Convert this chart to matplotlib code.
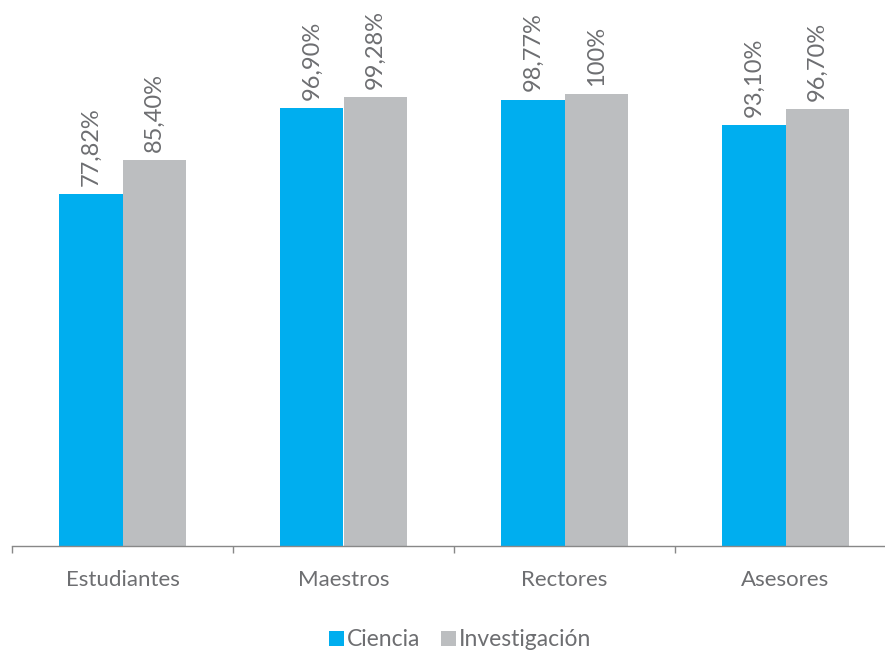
import numpy as np
import matplotlib
matplotlib.use("Agg")
import matplotlib.pyplot as plt

# grupos encuestados y porcentajes por tema
categorias = ["Estudiantes", "Maestros", "Rectores", "Asesores"]
ciencia = [77.82, 96.90, 98.77, 93.10]
investigacion = [85.40, 99.28, 100.0, 96.70]
etiq_ciencia = ["77,82%", "96,90%", "98,77%", "93,10%"]
etiq_invest = ["85,40%", "99,28%", "100%", "96,70%"]

azul = "#00AEEF"
gris = "#BCBEC0"
texto = "#6D6E71"

plt.rcParams['font.family'] = ['Lato', 'DejaVu Sans']

W, H = 885, 656
fig = plt.figure(figsize=(W / 100, H / 100), dpi=100)
# ejes en pixeles: base en y=546, 100% en y=94
base = 546
escala = 452 / 100.0
top = base - 120 * escala
ax = fig.add_axes([12 / W, (H - base) / H, 884 / W, (base - top) / H])

x = np.arange(len(categorias))
ancho = 0.287
b1 = ax.bar(x - ancho / 2, ciencia, ancho, color=azul, label="Ciencia")
b2 = ax.bar(x + ancho / 2, investigacion, ancho, color=gris, label="Investigación")

for barras, etiquetas in ((b1, etiq_ciencia), (b2, etiq_invest)):
    for b, t in zip(barras, etiquetas):
        ax.annotate(t, (b.get_x() + b.get_width() / 2, b.get_height()),
                    xytext=(0, 6), textcoords="offset points",
                    rotation=90, ha="center", va="bottom",
                    fontsize=17, color=texto)

ax.set_xlim(-0.5, len(categorias) - 0.5)
ax.set_ylim(0, 120)
ax.set_xticks(x)
ax.set_xticklabels(categorias, fontsize=16, color=texto)
ax.set_xticks(np.arange(len(categorias) + 1) - 0.5, minor=True)
ax.tick_params(axis="x", which="major", length=0, pad=17)
ax.tick_params(axis="x", which="minor", length=5, width=1, color="#888888")
ax.set_yticks([])
for lado in ("top", "right", "left"):
    ax.spines[lado].set_visible(False)
ax.spines["bottom"].set_color("#888888")
ax.spines["bottom"].set_linewidth(1)

fig.legend(handles=[b1, b2], loc="center", bbox_to_anchor=(0.52, (H - 640) / H),
           ncol=2, frameon=False, fontsize=16.5, labelcolor=texto,
           handlelength=0.65, handleheight=0.65, handletextpad=0.15,
           columnspacing=0.9)

fig.savefig("out.png", dpi=100)
